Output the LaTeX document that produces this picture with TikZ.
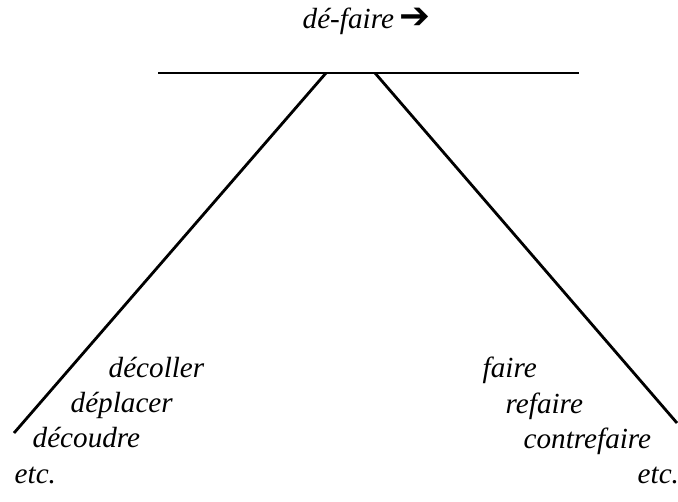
\documentclass[tikz,border=0pt]{standalone}
\usepackage{fontspec}
\setmainfont{Liberation Serif}
\newfontfamily\arrowfont{DejaVu Sans}
\usetikzlibrary{positioning}

\tikzset{
  word/.style={font=\fontsize{8.3}{10}\selectfont\itshape, inner sep=0pt, anchor=base west},
  branch/.style={line width=0.8pt, black}
}

\begin{document}
\begin{tikzpicture}
\useasboundingbox (0,0) rectangle (6.78,5.01);

% title
\node[word] (title) at (3.02, 4.73) {dé-faire\kern1.5pt{\upshape\arrowfont\fontsize{10.5}{10}\selectfont ➔}};

% top bar
\coordinate (barL) at (1.58, 4.28);
\coordinate (barR) at (5.79, 4.28);
\coordinate (legL) at (3.26, 4.28);
\coordinate (legR) at (3.75, 4.28);
\coordinate (footL) at (0.14, 0.68);
\coordinate (footR) at (6.77, 0.78);
\draw[branch] (barL) -- (barR);
\draw[branch] (legL) -- (footL);
\draw[branch] (legR) -- (footR);

% left branch words
\node[word] (decoller) at (1.08, 1.24) {décoller};
\node[word] (deplacer) at (0.70, 0.89) {déplacer};
\node[word] (decoudre) at (0.32, 0.54) {découdre};
\node[word] (etcL) at (0.14, 0.18) {etc.};

% right branch words
\node[word] (faire) at (4.82, 1.24) {faire};
\node[word] (refaire) at (5.05, 0.88) {refaire};
\node[word] (contrefaire) at (5.23, 0.53) {contrefaire};
\node[word] (etcR) at (6.37, 0.18) {etc.};

\end{tikzpicture}
\end{document}
